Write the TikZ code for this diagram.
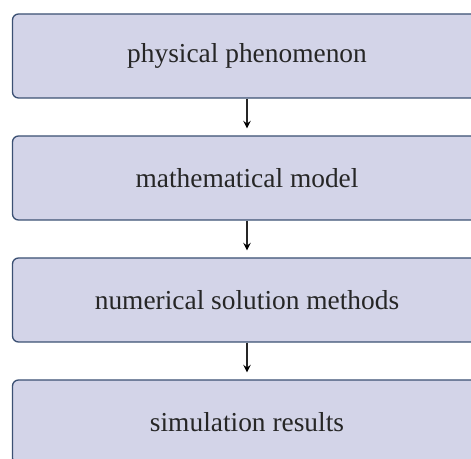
\documentclass[tikz,border=0pt]{standalone}
\usepackage{fontspec}
\setmainfont{Liberation Serif}
\usetikzlibrary{positioning, arrows}
\usepackage{xcolor}
\definecolor{boxfill}{RGB}{211,212,232}
\definecolor{boxline}{RGB}{59,80,115}

\begin{document}
\begin{tikzpicture}[->,>=stealth,shorten >=3.5pt,node distance=61pt, line width=0.65pt]
      \useasboundingbox (0,0) rectangle (235.5pt,229.5pt);
      \tikzset{stage/.style={draw=boxline, fill=boxfill, rounded corners=3pt, minimum width=234.5pt, minimum height=42pt, font=\fontsize{13.7}{16}\selectfont, text=black!85}}
      \node[stage] (phen) at (123.5pt,201.5pt) {physical phenomenon};
      \node[stage] (model) [below of=phen] {mathematical model};
      \node[stage] (solve) [below of=model] {numerical solution methods};
      \node[stage] (result) [below of=solve] {simulation results};

      \path[draw=black!85] (phen) edge (model)
            (model) edge (solve)
            (solve) edge (result)
            ;
    \end{tikzpicture}
\end{document}
